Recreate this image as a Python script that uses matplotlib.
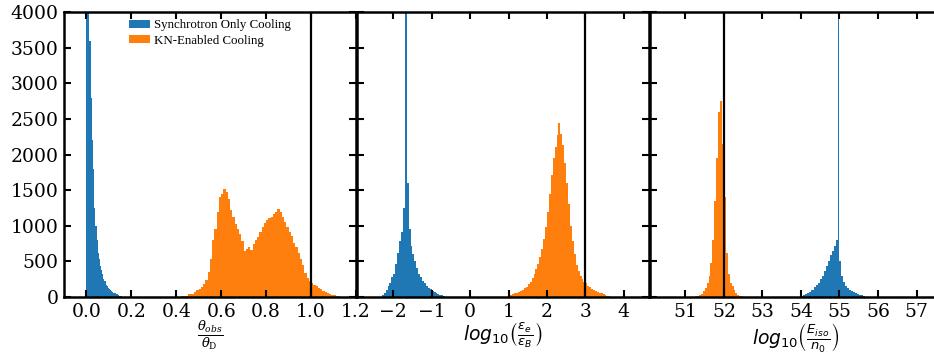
import numpy as np
import matplotlib
matplotlib.use('Agg')
import matplotlib.pyplot as plt

plt.rcParams['font.family'] = 'DejaVu Serif'
plt.rcParams['mathtext.fontset'] = 'dejavusans'

BLUE = '#1f77b4'
ORANGE = '#ff7f0e'

# theta_obs / theta_0 histograms (bin width 0.005 for synchrotron, 0.01 for KN)
syn_theta_start = 0.0
syn_theta_counts = [5000, 4800, 3600, 3600, 2800, 2200, 1800, 1250, 1000, 800,
                    620, 540, 430, 380, 320, 250, 230, 175, 160, 120,
                    115, 95, 85, 75, 55, 55, 45, 40, 30, 20, 15, 10]
kn_theta_start = 0.42
kn_theta_counts = [15, 15, 20, 40, 40, 45, 70, 100, 110, 145,
                   185, 240, 350, 540, 800, 960, 1200, 1400, 1450, 1510,
                   1480, 1380, 1220, 1130, 1030, 950, 880, 790, 650, 680,
                   700, 660, 750, 800, 840, 920, 980, 1040, 1080, 1110,
                   1130, 1170, 1200, 1230, 1190, 1120, 1060, 990, 920, 850,
                   760, 700, 620, 540, 450, 340, 270, 220, 190, 170,
                   150, 125, 110, 90, 75, 55, 45, 35, 25, 15, 8, 4]

# log10(eps_e / eps_B) histograms (bin width 0.05)
syn_eps_start = -2.30
syn_eps_counts = [30, 60, 100, 150, 200, 280, 330, 470, 620, 780,
                  920, 1250, 1900, 1600, 950, 720, 600, 500, 410, 330,
                  280, 230, 200, 160, 125, 110, 85, 70, 55, 45, 35, 25, 10]
syn_eps_spike = -1.665
kn_eps_start = 1.00
kn_eps_counts = [30, 35, 40, 50, 60, 65, 85, 100, 120, 145,
                 180, 215, 270, 320, 400, 470, 560, 680, 820, 990,
                 1200, 1450, 1720, 1950, 2100, 2280, 2450, 2290, 2130, 1880,
                 1600, 1300, 1000, 780, 600, 450, 360, 290, 250, 215,
                 200, 160, 140, 115, 100, 90, 70, 60, 50, 40, 30, 20, 10]

# log10(E_iso / n_0) histograms (bin width 0.05)
kn_eiso_start = 51.20
kn_eiso_counts = [5, 10, 20, 30, 40, 80, 120, 200, 300, 480,
                  800, 1350, 1950, 2600, 2750, 2150, 1400, 620, 320, 200,
                  150, 100, 60, 35, 20, 10, 5]
syn_eiso_start = 54.00
syn_eiso_counts = [20, 30, 45, 55, 70, 95, 105, 140, 165, 200,
                   250, 300, 360, 440, 500, 590, 650, 720, 800, 940,
                   500, 300, 210, 160, 130, 95, 80, 70, 55, 45, 35, 25, 15]
syn_eiso_spike = 54.975
spike_count = 6000

true_values = [1.0, 3.0, 52.0]
xlims = [(-0.1, 1.2), (-2.95, 4.65), (50.07, 57.65)]
xticks = [np.arange(0, 1.21, 0.2), np.arange(-2, 5, 1), np.arange(51, 58, 1)]
xlabels = [r'$\frac{\theta_{obs}}{\theta_{\rm D}}$',
           r'$log_{10}\left(\frac{\epsilon_e}{\epsilon_B}\right)$',
           r'$log_{10}\left(\frac{E_{iso}}{n_0}\right)$']


def draw_hist(ax, start, width, counts, color, label=None):
    edges = start + width * np.arange(len(counts) + 1)
    ax.hist(edges[:-1], bins=edges, weights=counts, histtype='stepfilled',
            color=color, label=label, lw=0)


fig = plt.figure(figsize=(9.34, 3.57), dpi=100)
axes = []
for i in range(3):
    ax = fig.add_axes([0.0685 + i * 0.3135, 0.168, 0.3126, 0.798])
    axes.append(ax)

draw_hist(axes[0], syn_theta_start, 0.005, syn_theta_counts, BLUE,
          'Synchrotron Only Cooling')
draw_hist(axes[0], kn_theta_start, 0.01, kn_theta_counts, ORANGE,
          'KN-Enabled Cooling')
draw_hist(axes[1], syn_eps_start, 0.05, syn_eps_counts, BLUE)
axes[1].bar(syn_eps_spike, spike_count, width=0.035, color=BLUE, lw=0)
draw_hist(axes[1], kn_eps_start, 0.05, kn_eps_counts, ORANGE)
draw_hist(axes[2], kn_eiso_start, 0.05, kn_eiso_counts, ORANGE)
draw_hist(axes[2], syn_eiso_start, 0.05, syn_eiso_counts, BLUE)
axes[2].bar(syn_eiso_spike, spike_count, width=0.012, color=BLUE, lw=0)

for i, ax in enumerate(axes):
    ax.axvline(true_values[i], color='black', lw=1.6)
    ax.set_xlim(xlims[i])
    ax.set_ylim(0, 4000)
    ax.set_xticks(xticks[i])
    ax.set_yticks(np.arange(0, 4001, 500))
    ax.tick_params(direction='in', top=True, right=True, length=5,
                   width=1.5, labelsize=13.5, pad=4)
    for sp in ax.spines.values():
        sp.set_linewidth(1.8)
    if i > 0:
        ax.tick_params(labelleft=False)

axes[0].set_xticklabels(['0.0', '0.2', '0.4', '0.6', '0.8', '1.0', '1.2'])
axes[0].set_xlabel(xlabels[0], fontsize=13.5, math_fontfamily='dejavuserif',
                   labelpad=-1)
axes[1].set_xlabel(xlabels[1], fontsize=13.5, labelpad=0)
axes[2].set_xlabel(xlabels[2], fontsize=13.5, labelpad=0)

axes[0].legend(loc='upper center', bbox_to_anchor=(0.5, 1.015), frameon=False,
               prop={'family': 'Liberation Serif', 'size': 9.3},
               handlelength=1.6, handleheight=0.6, labelspacing=0.25,
               handletextpad=0.3)

fig.savefig('out.png', dpi=100)
